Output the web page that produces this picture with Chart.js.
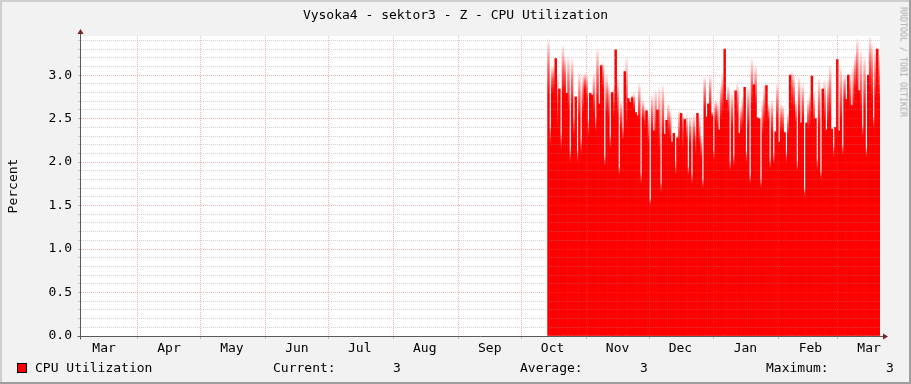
<!DOCTYPE html>
<html><head><meta charset="utf-8">
<script src="https://cdn.jsdelivr.net/npm/chart.js@4.4.1/dist/chart.umd.min.js"></script>
<style>
html,body{margin:0;padding:0;}
body{width:911px;height:384px;position:relative;background:#F2F2F2;overflow:hidden;font-family:"DejaVu Sans Mono",monospace;font-size:13px;color:#000;}
canvas{position:absolute;left:0;top:0;}
.t{position:absolute;white-space:pre;line-height:13px;height:13px;}
.fr{position:absolute;}
#sw{position:absolute;left:17px;top:363px;width:10px;height:10px;box-sizing:border-box;border:1px solid #000;background:#FF0000;}
</style></head><body>
<canvas id="c" width="911" height="384"></canvas>
<div class="fr" style="left:0;top:0;width:911px;height:2px;background:#CFCFCF"></div>
<div class="fr" style="left:0;top:0;width:2px;height:384px;background:#CFCFCF"></div>
<div class="fr" style="left:0;top:382px;width:911px;height:2px;background:#9E9E9E"></div>
<div class="fr" style="left:909px;top:0;width:2px;height:384px;background:#9E9E9E"></div>
<div class="t" id="title" style="left:0;width:911px;top:8px;text-align:center"></div>
<div class="t" id="ylab" style="left:12px;top:186px;transform-origin:0 0;transform:rotate(-90deg) translate(-50%,-50%)"></div>
<div class="t" id="wm" style="left:903px;top:62px;font-size:8.3px;line-height:9px;height:9px;color:#ababab;transform-origin:0 0;transform:rotate(90deg) translate(-50%,-50%)"></div>
<div id="sw"></div>
<div class="t" id="lg0" style="left:35px;top:361px"></div>
<div class="t" id="s0" style="left:273px;top:361px"></div>
<div class="t" id="v0" style="left:393px;top:361px"></div>
<div class="t" id="s1" style="left:520px;top:361px"></div>
<div class="t" id="v1" style="left:640px;top:361px"></div>
<div class="t" id="s2" style="left:766px;top:361px"></div>
<div class="t" id="v2" style="left:886px;top:361px"></div>
<script>
// ---- texts ----
const chartTitle = "Vysoka4 - sektor3 - Z - CPU Utilization";
const yAxisTitle = "Percent";
const watermark = "RRDTOOL / TOBI OETIKER";
const seriesName = "CPU Utilization";
const statLabels = ["Current:", "Average:", "Maximum:"];
const statValues = ["3", "3", "3"];

// ---- x axis (days counted from the first day shown, ~5 Mar) ----
const monthLabels = ["Mar","Apr","May","Jun","Jul","Aug","Sep","Oct","Nov","Dec","Jan","Feb","Mar"];
const monthLabelDays = [11,42,72,103,133,164,195,225,256,286,317,348,376];
const monthStartDays = [27,57,88,118,149,180,210,241,271,302,333,361];
const xMaxDay = 381.2;
const dataStartDay = 222.6;
const dataEndDay = 381.2;

// ---- y axis ----
const yMax = 3.45;
const yLabelValues = [0,0.5,1,1.5,2,2.5,3];
const yLabelTexts = ["0.0","0.5","1.0","1.5","2.0","2.5","3.0"];
const yMinorStep = 0.1;

// ---- series: top of each column (faded peak) and level where solid red begins ----
const peakVals = [
 3.42,2.43,3.09,3.11,3.19,3.00,2.84,2.33,3.34,3.21,2.79,3.21,2.16,3.19,2.52,2.75,2.15,3.02,2.27,2.98,3.02,3.00,2.50,2.79,2.77,3.02,2.52,3.30,2.67,3.11,3.15,2.07,3.00,2.90,2.32,2.80,2.86,3.29,2.95,1.95,2.70,2.40,3.04,3.21,2.73,2.69,
 2.76,2.79,2.57,2.55,2.90,1.88,2.71,2.63,2.59,2.56,1.58,2.77,2.36,2.82,2.60,2.86,1.78,2.88,2.32,2.48,2.67,2.59,2.23,2.33,2.00,2.28,2.59,2.56,2.56,2.49,2.54,1.96,2.52,1.87,2.54,2.40,2.56,2.52,2.30,1.81,2.98,2.52,2.67,3.00,
 2.58,2.15,2.71,2.69,2.37,2.90,3.02,3.30,2.71,2.88,2.02,2.79,2.09,2.82,2.90,2.33,2.63,2.75,2.86,2.13,2.86,1.86,3.19,2.89,3.11,2.51,2.50,1.81,2.71,2.90,2.88,2.67,2.04,2.71,2.10,2.35,2.90,2.23,2.67,2.65,2.34,2.13,2.56,3.00,3.04,
 3.00,2.71,2.01,2.98,2.45,2.90,1.71,2.45,2.71,2.79,2.99,2.80,2.50,2.04,2.96,1.90,2.84,2.94,2.37,2.94,3.11,2.38,2.20,2.40,3.18,2.36,3.07,2.20,3.00,2.72,3.00,3.02,2.65,3.11,3.24,3.42,2.82,3.28,2.43,3.21,2.17,3.00,3.44,3.36,2.52,3.32,3.30,3.24
];
const solidVals = [
 2.77,2.20,2.79,2.80,3.19,2.40,2.84,2.15,2.77,2.79,2.79,2.60,2.00,2.63,2.30,2.75,2.00,2.52,2.10,2.56,2.82,2.71,2.30,2.79,2.77,2.56,2.35,2.71,2.67,3.11,2.82,1.95,2.56,2.52,2.15,2.80,2.50,3.29,2.52,1.85,2.40,2.25,3.04,2.40,2.73,2.69,
 2.73,2.60,2.57,2.52,2.50,1.75,2.48,2.40,2.59,2.21,1.50,2.36,2.36,2.33,2.60,2.14,1.65,2.33,2.32,2.48,2.33,2.25,2.23,2.33,1.85,2.28,2.17,2.56,2.14,2.49,2.25,1.85,2.20,1.75,2.22,2.10,2.56,2.20,2.05,1.70,2.60,2.52,2.67,2.60,
 2.52,2.02,2.48,2.40,2.37,2.48,2.55,3.30,2.71,2.56,1.90,2.40,1.95,2.82,2.52,2.33,2.36,2.40,2.86,2.00,2.40,1.75,2.63,2.89,2.67,2.51,2.50,1.70,2.31,2.45,2.88,2.48,1.92,2.33,1.98,2.35,2.48,2.23,2.35,2.33,2.34,2.00,2.30,3.00,2.63,
 2.60,2.45,1.90,2.52,2.45,2.48,1.60,2.45,2.35,2.40,2.99,2.44,2.50,1.92,2.40,1.80,2.84,2.48,2.37,2.45,2.52,2.38,2.05,2.40,3.18,2.36,2.48,2.08,2.71,2.72,3.00,2.61,2.65,2.63,2.82,2.82,2.82,2.52,2.30,2.60,2.05,3.00,2.82,2.71,2.40,2.73,3.30,2.70
];

// ---- colours ----
const RED = "#FF0000";
const MINOR = "rgba(143,143,143,0.4)";
const MAJOR = "rgba(222,79,79,0.42)";
const AXIS = "rgb(90,90,90)";
const ARROW = "rgb(128,31,31)";

// texts into DOM
document.getElementById("title").textContent = chartTitle;
document.getElementById("ylab").textContent = yAxisTitle;
document.getElementById("wm").textContent = watermark;
document.getElementById("lg0").textContent = seriesName;
statLabels.forEach((s,i)=>{document.getElementById("s"+i).textContent=s;document.getElementById("v"+i).textContent=statValues[i];});

const N = peakVals.length;
const stepDay = (dataEndDay - dataStartDay) / N;
const points = peakVals.map((v,i)=>({x: dataStartDay + (i+0.5)*stepDay, y: v}));

const isMajorY = v => yLabelValues.some(m => Math.abs(m - v) < 1e-6);

const frame = {
  id: "frame",
  beforeDraw(chart){
    const {ctx, chartArea:a} = chart;
    ctx.save(); ctx.fillStyle = "#FFFFFF";
    ctx.fillRect(a.left, a.top, a.right-a.left, a.bottom-a.top);
    ctx.restore();
  },
  afterDraw(chart){
    const {ctx, chartArea:a} = chart;
    const x0 = a.left - 0.5, y0 = a.bottom + 0.5;
    ctx.save();
    ctx.strokeStyle = AXIS; ctx.lineWidth = 1;
    ctx.beginPath();
    ctx.moveTo(x0, y0 + 3); ctx.lineTo(x0, a.top - 3);
    ctx.moveTo(x0 - 3, y0); ctx.lineTo(a.right + 4, y0);
    ctx.stroke();
    ctx.fillStyle = ARROW;
    ctx.beginPath();
    ctx.moveTo(x0, a.top - 7); ctx.lineTo(x0 - 3, a.top - 2); ctx.lineTo(x0 + 3, a.top - 2); ctx.closePath(); ctx.fill();
    ctx.beginPath();
    ctx.moveTo(a.right + 8, y0); ctx.lineTo(a.right + 3, y0 - 3); ctx.lineTo(a.right + 3, y0 + 3); ctx.closePath(); ctx.fill();
    ctx.restore();
  }
};

new Chart(document.getElementById("c"), {
  type: "bar",
  data: { datasets: [{
    label: seriesName,
    data: points,
    barPercentage: 1, categoryPercentage: 1,
    borderWidth: 0,
    backgroundColor: (c) => {
      const ch = c.chart;
      if (!ch.chartArea || c.dataIndex === undefined) return RED;
      const i = c.dataIndex, p = peakVals[i], s = solidVals[i];
      if (p - s < 0.02) return RED;
      const ys = ch.scales.y;
      const g = ch.ctx.createLinearGradient(0, ys.getPixelForValue(p), 0, ys.getPixelForValue(s));
      g.addColorStop(0, "rgba(255,0,0,0.05)");
      g.addColorStop(0.5, "rgba(255,0,0,0.6)");
      g.addColorStop(1, "rgba(255,0,0,1)");
      return g;
    }
  }]},
  options: {
    responsive: false, animation: false, events: [],
    devicePixelRatio: 1,
    layout: { padding: { top: 36, right: 31, left: 0, bottom: 0 } },
    plugins: { legend: {display:false}, tooltip: {enabled:false}, title: {display:false} },
    scales: {
      x: {
        type: "linear", min: 0, max: xMaxDay, bounds: "data", offset: false,
        afterFit: s => { s.height = 48; },
        afterBuildTicks: s => {
          s.ticks = monthStartDays.concat(monthLabelDays).sort((a,b)=>a-b).map(v=>({value:v}));
        },
        grid: {
          z: 1, lineWidth: 1, tickLength: 3, offset: false,
          color: c => (c.tick && monthStartDays.includes(c.tick.value)) ? MAJOR : "rgba(0,0,0,0)",
          tickColor: c => (c.tick && monthStartDays.includes(c.tick.value)) ? MAJOR : "rgba(0,0,0,0)"
        },
        border: { display: false, dash: [1,1] },
        ticks: {
          autoSkip: false, maxRotation: 0, padding: 2,
          font: { family: "DejaVu Sans Mono", size: 13 }, color: "#000",
          callback: v => { const i = monthLabelDays.indexOf(v); return i >= 0 ? monthLabels[i] : ""; }
        }
      },
      y: {
        min: 0, max: yMax, bounds: "data",
        afterFit: s => { s.width = 81; },
        afterBuildTicks: s => {
          const t = [];
          for (let k = 0; k * yMinorStep <= yMax - 0.01; k++) t.push({value: Math.round(k * yMinorStep * 10) / 10});
          s.ticks = t;
        },
        grid: {
          z: 1, lineWidth: 1, tickLength: 3,
          color: c => (c.tick && isMajorY(c.tick.value)) ? MAJOR : MINOR,
          tickColor: c => (c.tick && isMajorY(c.tick.value)) ? MAJOR : MINOR
        },
        border: { display: false, dash: [1,1] },
        ticks: {
          autoSkip: false,
          padding: 6, font: { family: "DejaVu Sans Mono", size: 13 }, color: "#000",
          callback: v => { const i = yLabelValues.findIndex(m => Math.abs(m - v) < 1e-6); return i >= 0 ? yLabelTexts[i] : ""; }
        }
      }
    }
  },
  plugins: [frame]
});
</script>
</body></html>
